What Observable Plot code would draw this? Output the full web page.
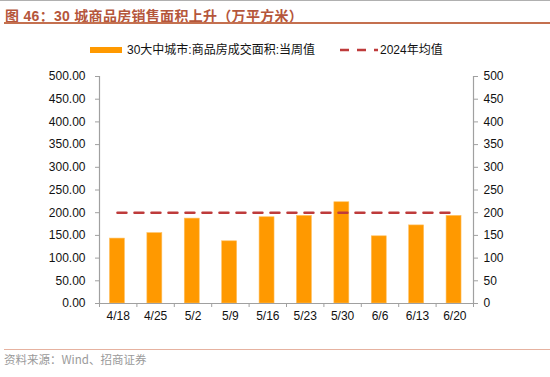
<!DOCTYPE html>
<html>
<head>
<meta charset="utf-8">
<script src="https://cdn.jsdelivr.net/npm/d3@7"></script>
<script src="https://cdn.jsdelivr.net/npm/@observablehq/plot@0.6"></script>
<style>
  html, body { margin: 0; padding: 0; background: #fff; }
  #wrap { position: relative; width: 550px; height: 377px; overflow: hidden;
          font-family: "Liberation Sans", Arial, "Noto Sans CJK SC", sans-serif; }
  #topline { position: absolute; left: 0; top: 0; width: 550px; height: 1px; background: #b0b0b0; }
  #title { position: absolute; left: 5px; top: 5px; font-size: 14px; font-weight: bold; color: #b5563b;
           font-family: "Liberation Sans", "Noto Sans CJK SC", sans-serif; white-space: nowrap; letter-spacing: 0.3px; }
  #titleline { position: absolute; left: 4px; top: 22px; width: 546px; height: 1.5px; background: #c4704f; }
  #legend { position: absolute; top: 41px; left: 0; width: 550px; height: 18px; font-size: 12px; color: #111;
            font-family: "Liberation Sans", "Noto Sans CJK SC", sans-serif; }
  .lg { position: absolute; top: 0; white-space: nowrap; line-height: 18px; }
  #chart { position: absolute; left: 0; top: 60px; }
  #footline { position: absolute; left: 4px; top: 349px; width: 546px; height: 1px; background: #e6b2a0; }
  #source { position: absolute; left: 4px; top: 351px; font-size: 11.5px; color: #9a9a9a;
            font-family: "Noto Sans CJK SC", sans-serif; white-space: nowrap; }
</style>
</head>
<body>
<div id="wrap">
  <div id="topline"></div>
  <div id="title">图 46：30 城商品房销售面积上升（万平方米）</div>
  <div id="titleline"></div>
  <div id="legend"></div>
  <div id="chart"></div>
  <div id="footline"></div>
  <div id="source">资料来源：Wind、招商证券</div>
</div>
<script>
// ---- data ----
const weeks = ["4/18", "4/25", "5/2", "5/9", "5/16", "5/23", "5/30", "6/6", "6/13", "6/20"];
const weeklyArea = [143, 155, 187, 137, 190, 193, 223, 148, 172, 193];
const avg2024 = 200;
const leftTicks = [0, 50, 100, 150, 200, 250, 300, 350, 400, 450, 500];
const seriesBarName = "30大中城市:商品房成交面积:当周值";
const seriesLineName = "2024年均值";

const barColor = "#ff9900";
const lineColor = "#be3b3b";
const axisColor = "#a0a0a0";

// legend
const legend = document.getElementById("legend");
legend.innerHTML = `
  <div class="lg" style="left:90px;"><svg width="33" height="18" style="vertical-align:top"><rect x="0" y="6" width="32" height="6" fill="${barColor}"/></svg></div>
  <div class="lg" style="left:127px;">${seriesBarName}</div>
  <div class="lg" style="left:340px;"><svg width="40" height="18" style="vertical-align:top"><line x1="0" x2="38" y1="9" y2="9" stroke="${lineColor}" stroke-width="2.5" stroke-dasharray="9,8"/></svg></div>
  <div class="lg" style="left:380px;">${seriesLineName}</div>`;

const data = weeks.map((w, i) => ({week: w, i, value: weeklyArea[i]}));
const lineData = weeks.map((w, i) => ({i, value: avg2024}));

const chart = Plot.plot({
  width: 550,
  height: 270,
  marginTop: 16,
  marginBottom: 27,
  marginLeft: 99,
  marginRight: 77,
  style: {fontFamily: "Liberation Sans, Arial, sans-serif", fontSize: "12px", color: "#111", background: "transparent"},
  x: {type: "linear", domain: [0, weeks.length]},
  y: {domain: [0, 500]},
  marks: [
    Plot.rect(data, {x1: d => d.i + 0.28, x2: d => d.i + 0.68, y1: 0, y2: "value", fill: barColor, stroke: "#ffc060", strokeWidth: 0.6}),
    Plot.line(lineData, {x: d => d.i + 0.48, y: "value", stroke: lineColor, strokeWidth: 2.5, strokeDasharray: "9,8"}),
    Plot.ruleY([0], {stroke: axisColor, strokeWidth: 1.2}),
    Plot.ruleX([0, weeks.length], {y1: 0, y2: 500, stroke: axisColor, strokeWidth: 1.2}),
    Plot.axisY({anchor: "left", ticks: leftTicks, tickFormat: d3.format(".2f"), tickSize: 4, tickPadding: 10, stroke: axisColor, color: "#111", label: null}),
    Plot.axisY({anchor: "right", ticks: leftTicks, tickFormat: d => String(d), tickSize: 4, tickPadding: 6, stroke: axisColor, color: "#111", label: null}),
    Plot.axisX({anchor: "bottom", ticks: d3.range(0, weeks.length + 1), tickFormat: () => "", tickSize: 4, stroke: axisColor, label: null}),
    Plot.axisX({anchor: "bottom", ticks: weeks.map((w, i) => i + 0.5), tickFormat: v => weeks[Math.floor(v)], tickSize: 0, tickPadding: 8, color: "#111", label: null})
  ]
});
document.getElementById("chart").appendChild(chart);
</script>
</body>
</html>
